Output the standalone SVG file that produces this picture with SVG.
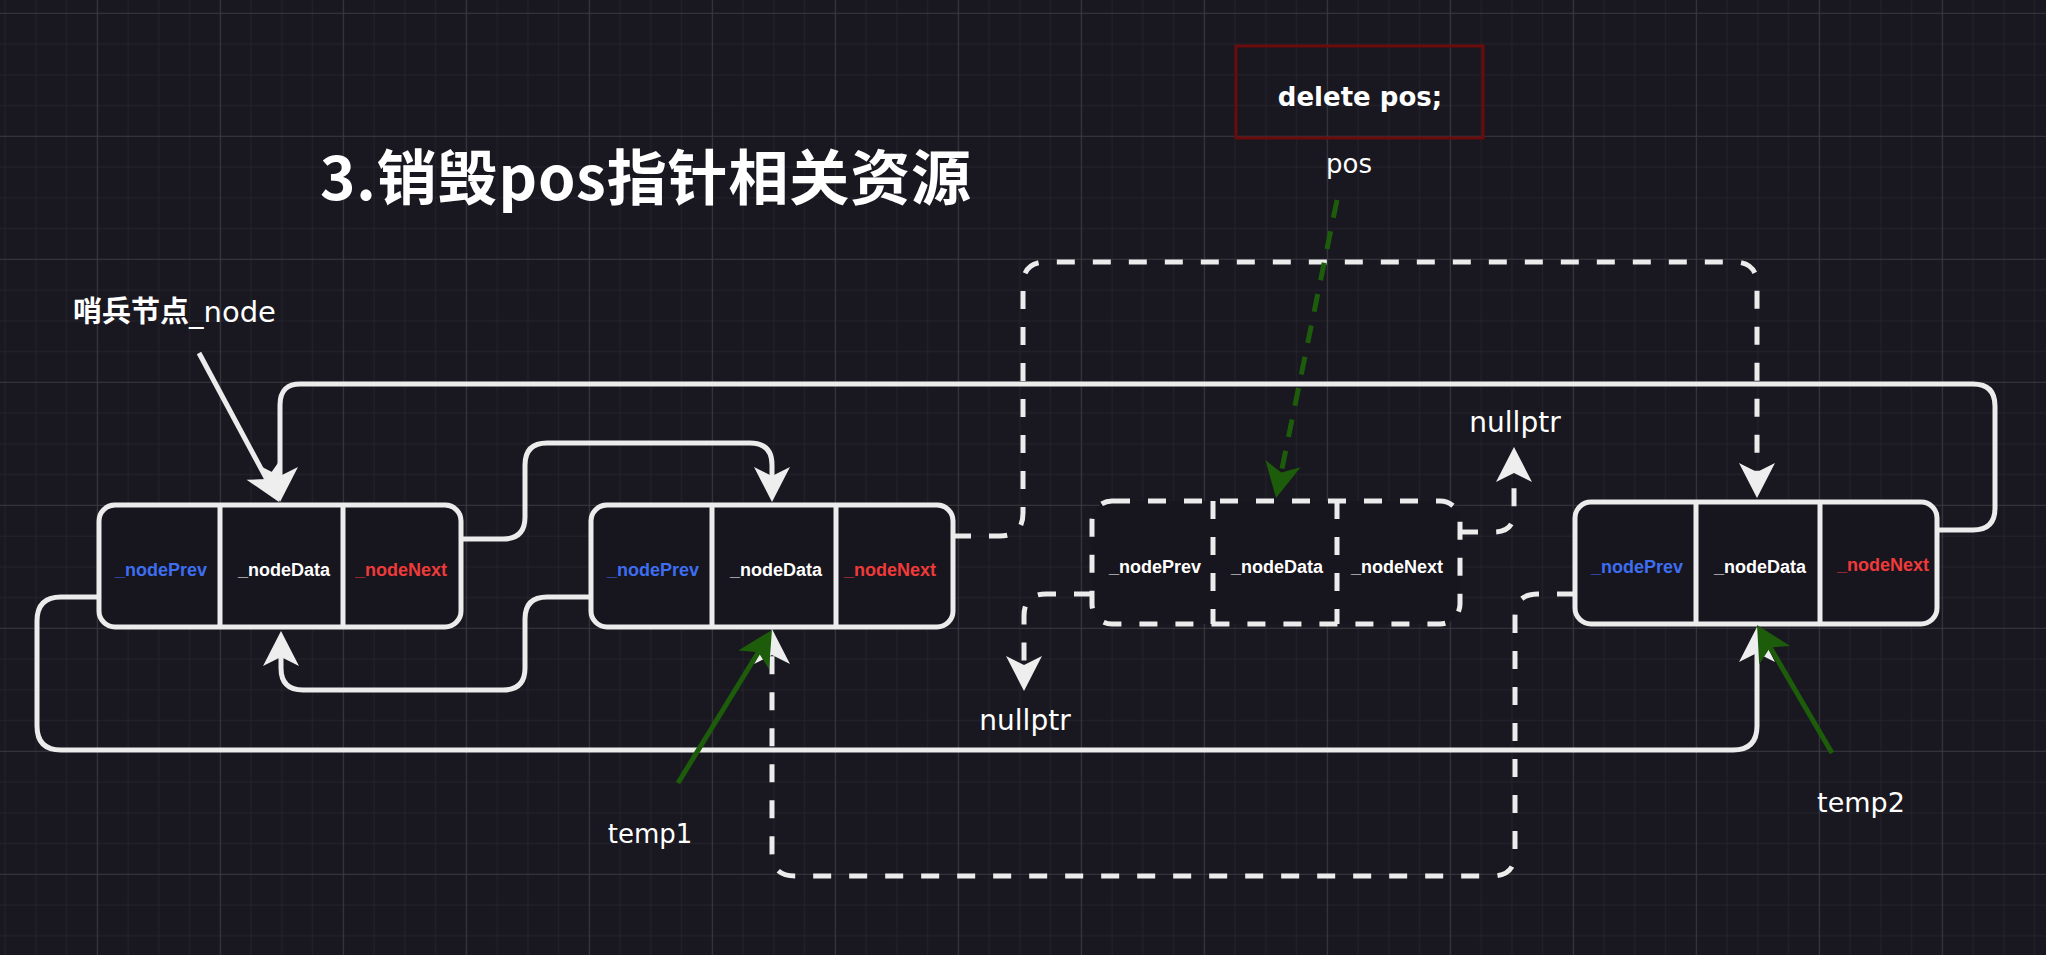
<svg xmlns="http://www.w3.org/2000/svg" width="2046" height="955" viewBox="0 0 2046 955">
<defs>
<pattern id="grid" patternUnits="userSpaceOnUse" x="96.8" y="12.8" width="123" height="123">
<rect width="123" height="123" fill="#19171f"/>
<path d="M31.25 0V123M62 0V123M92.75 0V123M0 31.25H123M0 62H123M0 92.75H123" stroke="#25232b" stroke-width="1"/>
<path d="M0.5 0V123M0 0.5H123" stroke="#3a3940" stroke-width="1.2"/>
</pattern>
<marker id="aw" markerUnits="userSpaceOnUse" orient="auto" viewBox="-30 -22 46 44" markerWidth="46" markerHeight="44" refX="0" refY="0">
<path d="M12 0 L-23 -18 L-14 0 L-23 18 Z" fill="#eeeeee"/>
</marker>
<marker id="ag" markerUnits="userSpaceOnUse" orient="auto" viewBox="-30 -22 46 44" markerWidth="46" markerHeight="44" refX="0" refY="0">
<path d="M12 0 L-23 -18 L-14 0 L-23 18 Z" fill="#1d5c0b"/>
</marker>
<style>
.bg{fill:url(#grid)}
.node{fill:#17151d;stroke:#ececec;stroke-width:5}
.div{stroke:#ececec;stroke-width:5;fill:none}
.dnode{fill:#17151d;stroke:#ececec;stroke-width:5;stroke-dasharray:18 18}
.ddiv{stroke:#ececec;stroke-width:5;stroke-dasharray:18 18;fill:none}
.cell{font-family:"Liberation Sans",Arial,sans-serif;font-weight:bold;font-size:18px;text-anchor:middle}
.prev{fill:#3d6ef0}
.data{fill:#ffffff}
.next{fill:#ee3a3a}
.lbl{font-family:"DejaVu Sans","Noto Sans CJK SC",sans-serif;fill:#ffffff;text-anchor:middle}
.c{fill:none;stroke:#ececec;stroke-width:5;stroke-linejoin:round;marker-end:url(#aw)}
.d{stroke-dasharray:18 18}
.g{fill:none;stroke:#1d5c0b;stroke-width:5;marker-end:url(#ag)}
</style>
</defs>
<rect class="bg" x="0" y="0" width="2046" height="955"/>

<g id="title">
<text x="320" y="200" font-family="'Noto Sans CJK SC',sans-serif" font-weight="bold" font-size="60" fill="#ffffff" textLength="651" lengthAdjust="spacing">3.销毁pos指针相关资源</text>
</g>

<g id="delete-box">
<rect x="1236" y="46" width="247" height="92" fill="none" stroke="#6b0b0b" stroke-width="3"/>
<text class="lbl" x="1360" y="106" font-size="26" font-weight="bold">delete pos;</text>
</g>

<g id="labels">
<text x="73" y="322" font-family="'DejaVu Sans','Noto Sans CJK SC',sans-serif" font-size="29" fill="#ffffff"><tspan font-weight="bold">哨兵节点</tspan>_node</text>
<text class="lbl" x="1349" y="173" font-size="26">pos</text>
<text class="lbl" x="1515" y="432" font-size="28">nullptr</text>
<text class="lbl" x="1025" y="730" font-size="28">nullptr</text>
<text class="lbl" x="650" y="843" font-size="26">temp1</text>
<text class="lbl" x="1861" y="812" font-size="27">temp2</text>
</g>

<g id="connectors">
<path class="c" d="M1937 530 H1973 Q1995 530 1995 508 V406 Q1995 384 1973 384 H302 Q280 383 280 405 V490"/>
<path class="c" d="M99 597 H61 Q37 597 37 621 V726 Q37 750 61 750 H1733 Q1757 750 1757 726 V639"/>
<path class="c" d="M461 539 H503 Q525 539 525 517 V465 Q525 443 547 443 H750 Q772 443 772 465 V490"/>
<path class="c" d="M591 597 H547 Q525 597 525 619 V668 Q525 690 503 690 H303 Q281 690 281 668 V643"/>
<path class="c" d="M199 353 L273.3 491.4"/>
<path class="c d" d="M953 536 H1000 Q1023 536 1023 513 V285 Q1023 262 1046 262 H1734 Q1757 262 1757 285 V486"/>
<path class="c d" d="M1575 594 H1538 Q1515 594 1515 617 V853 Q1515 876 1492 876 H795 Q772 876 772 853 V641"/>
<path class="c d" d="M1460 532 H1494 Q1514 532 1514 512 V459"/>
<path class="c d" d="M1092 594 H1046 Q1024 594 1024 616 V679"/>
</g>

<g id="node1">
<rect class="node" x="99" y="505" width="362" height="122" rx="16"/>
<path class="div" d="M220 505V627M343 505V627"/>
<text class="cell prev" x="161" y="576">_nodePrev</text>
<text class="cell data" x="284" y="576">_nodeData</text>
<text class="cell next" x="401" y="576">_nodeNext</text>
</g>

<g id="node2">
<rect class="node" x="591" y="505" width="362" height="122" rx="16"/>
<path class="div" d="M712 505V627M836 505V627"/>
<text class="cell prev" x="653" y="576">_nodePrev</text>
<text class="cell data" x="776" y="576">_nodeData</text>
<text class="cell next" x="890" y="576">_nodeNext</text>
</g>

<g id="node3">
<rect class="dnode" x="1092" y="501" width="368" height="123" rx="20"/>
<path class="ddiv" d="M1213 501V624M1337 501V624"/>
<text class="cell data" x="1155" y="573">_nodePrev</text>
<text class="cell data" x="1277" y="573">_nodeData</text>
<text class="cell data" x="1397" y="573">_nodeNext</text>
</g>

<g id="node4">
<rect class="node" x="1575" y="502" width="362" height="122" rx="16"/>
<path class="div" d="M1696 502V624M1820 502V624"/>
<text class="cell prev" x="1637" y="573">_nodePrev</text>
<text class="cell data" x="1760" y="573">_nodeData</text>
<text class="cell next" x="1883" y="571">_nodeNext</text>
</g>

<g id="pointers">
<path class="g" stroke-dasharray="18 14" d="M1337 200 L1278.4 486.2"/>
<path class="g" d="M678 783 L765.7 640.2"/>
<path class="g" d="M1832 753 L1763.1 635.3"/>
</g>
</svg>
